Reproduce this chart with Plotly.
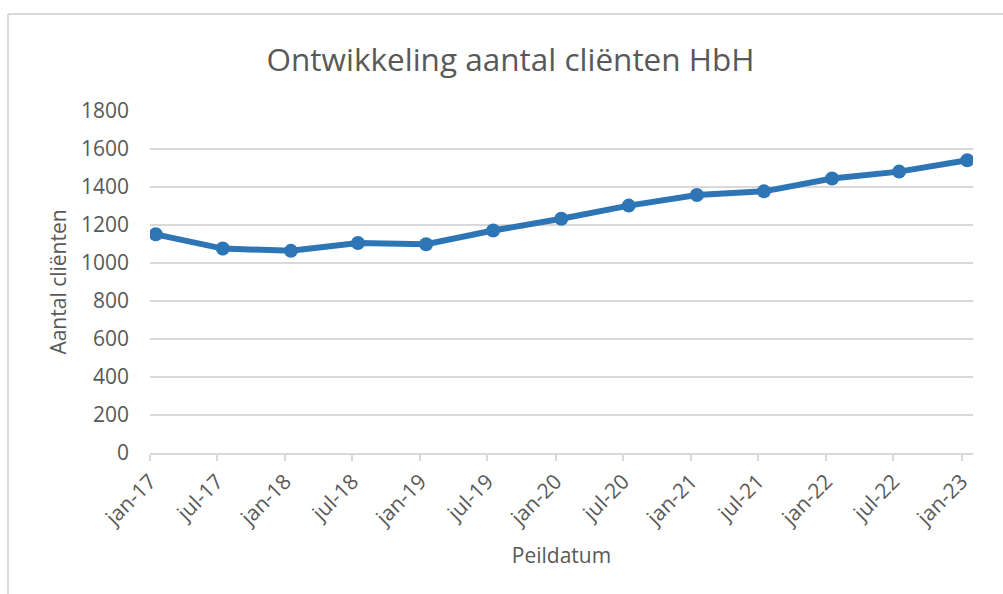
import plotly.graph_objects as go

# ---- data ----
categories = ["jan-17", "jul-17", "jan-18", "jul-18", "jan-19", "jul-19", "jan-20",
              "jul-20", "jan-21", "jul-21", "jan-22", "jul-22", "jan-23"]
dates = ["2017-01-01", "2017-07-01", "2018-01-01", "2018-07-01", "2019-01-01", "2019-07-01",
         "2020-01-01", "2020-07-01", "2021-01-01", "2021-07-01", "2022-01-01", "2022-07-01",
         "2023-01-01"]
clients = [1151, 1076, 1064, 1105, 1099, 1171, 1233, 1302, 1358, 1377, 1445, 1481, 1541]
y_ticks = [0, 200, 400, 600, 800, 1000, 1200, 1400, 1600, 1800]

W, H = 1003, 594
L, R, T, B = 150, 30, 111, 141
GREY_TXT = "#595959"
GRID = "#d9d9d9"
FONT = "Open Sans"

fig = go.Figure()
fig.add_trace(go.Scatter(
    x=dates, y=clients, mode="lines+markers",
    xperiod="M1", xperiodalignment="middle",
    line=dict(color="#2e75b6", width=6),
    marker=dict(color="#2e75b6", size=14),
    hoverinfo="x+y", showlegend=False,
))

pw, ph = W - L - R, H - T - B
def px(xp):
    return (xp - L) / pw
def py(yp):
    return (H - B - yp) / ph

border = dict(color=GRID, width=2)
fig.add_shape(type="line", xref="paper", yref="paper",
              x0=px(8), x1=px(W + 5), y0=py(14), y1=py(14), line=border)
fig.add_shape(type="line", xref="paper", yref="paper",
              x0=px(8), x1=px(8), y0=py(14), y1=py(H + 5), line=border)

fig.update_layout(
    width=W, height=H,
    margin=dict(l=L, r=R, t=T, b=B, autoexpand=False),
    paper_bgcolor="white", plot_bgcolor="white",
    font=dict(family=FONT, color=GREY_TXT),
    title=dict(text="Ontwikkeling aantal cliënten HbH",
               font=dict(family=FONT, size=31.5, color=GREY_TXT),
               x=0.509, xref="container", xanchor="center",
               y=1 - 60 / H, yref="container", yanchor="middle"),
    xaxis=dict(
        type="date", range=["2017-01-01", "2023-02-01"],
        tickmode="array", tickvals=dates, ticktext=categories,
        tickangle=-45, tickfont=dict(size=21, color=GREY_TXT),
        ticks="outside", ticklen=6, tickcolor=GRID, tickwidth=2,
        showline=True, linecolor=GRID, linewidth=2,
        showgrid=False, zeroline=False,
        title=dict(text="Peildatum", font=dict(size=21, color=GREY_TXT), standoff=18),
    ),
    yaxis=dict(
        range=[0, 1800], tickmode="array", tickvals=y_ticks,
        tickfont=dict(size=21, color=GREY_TXT),
        showgrid=True, gridcolor=GRID, gridwidth=2,
        showline=False, zeroline=False, ticks="", ticklabelstandoff=20,
        title=dict(text="Aantal cliënten", font=dict(size=21, color=GREY_TXT), standoff=8),
    ),
)

fig.write_html("out.html", config={"displayModeBar": False},
               post_script="document.body.style.margin='0';")
